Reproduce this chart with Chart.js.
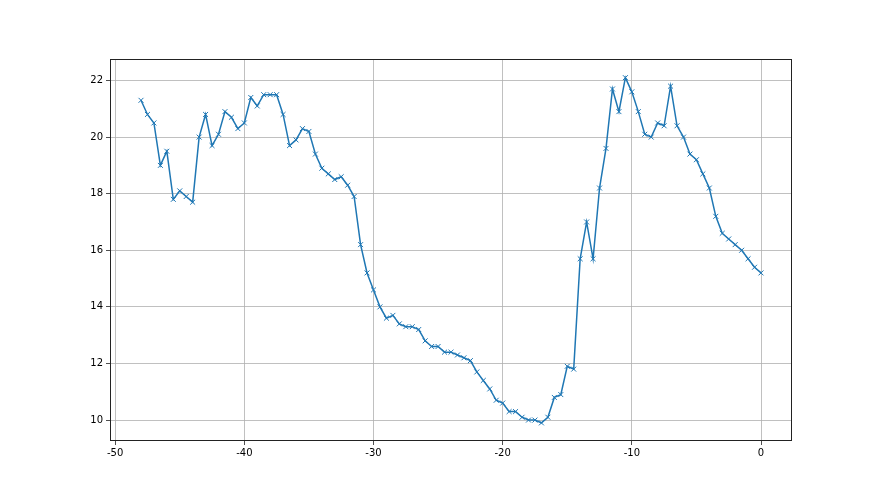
<!DOCTYPE html>
<html>
<head>
<meta charset="utf-8">
<script src="https://cdn.jsdelivr.net/npm/chart.js@4/dist/chart.umd.min.js"></script>
<style>
html,body{margin:0;padding:0;background:#fff;}
#wrap{width:880px;height:495px;}
</style>
</head>
<body>
<div id="wrap"><canvas id="c" width="880" height="495"></canvas></div>
<script>
const xValues = [-48,-47.5,-47,-46.5,-46,-45.5,-45,-44.5,-44,-43.5,-43,-42.5,-42,-41.5,-41,-40.5,-40,-39.5,-39,-38.5,-38,-37.5,-37,-36.5,-36,-35.5,-35,-34.5,-34,-33.5,-33,-32.5,-32,-31.5,-31,-30.5,-30,-29.5,-29,-28.5,-28,-27.5,-27,-26.5,-26,-25.5,-25,-24.5,-24,-23.5,-23,-22.5,-22,-21.5,-21,-20.5,-20,-19.5,-19,-18.5,-18,-17.5,-17,-16.5,-16,-15.5,-15,-14.5,-14,-13.5,-13,-12.5,-12,-11.5,-11,-10.5,-10,-9.5,-9,-8.5,-8,-7.5,-7,-6.5,-6,-5.5,-5,-4.5,-4,-3.5,-3,-2.5,-2,-1.5,-1,-0.5,0];
const yValues = [21.3,20.8,20.5,19.0,19.5,17.8,18.1,17.9,17.7,20.0,20.8,19.7,20.1,20.9,20.7,20.3,20.5,21.4,21.1,21.5,21.5,21.5,20.8,19.7,19.9,20.3,20.2,19.4,18.9,18.7,18.5,18.6,18.3,17.9,16.2,15.2,14.6,14.0,13.6,13.7,13.4,13.3,13.3,13.2,12.8,12.6,12.6,12.4,12.4,12.3,12.2,12.1,11.7,11.4,11.1,10.7,10.6,10.3,10.3,10.1,10.0,10.0,9.9,10.1,10.8,10.9,11.9,11.8,15.7,17.0,15.7,18.2,19.6,21.7,20.9,22.1,21.6,20.9,20.1,20.0,20.5,20.4,21.8,20.4,20.0,19.4,19.2,18.7,18.2,17.2,16.6,16.4,16.2,16.0,15.7,15.4,15.2];
const xTicks = [-50,-40,-30,-20,-10,0];
const yTicks = [10,12,14,16,18,20,22];

const points = xValues.map((x,i)=>({x:x,y:yValues[i]}));

const frame = {
  id:'frame',
  afterDatasetsDraw(chart){
    const a = chart.chartArea, ctx = chart.ctx;
    ctx.save();
    ctx.strokeStyle = '#222';
    ctx.lineWidth = 1;
    ctx.strokeRect(Math.round(a.left)+0.5, Math.round(a.top)+0.5, Math.round(a.right-a.left)-1, Math.round(a.bottom-a.top)-1);
    ctx.restore();
  }
};

const font = {family:'"DejaVu Sans", sans-serif', size:10};

new Chart(document.getElementById('c'), {
  type:'line',
  data:{datasets:[{
    data: points,
    borderColor:'#1f77b4',
    backgroundColor:'#1f77b4',
    borderWidth:1.5,
    pointStyle:'crossRot',
    pointRadius:3.5,
    pointBorderWidth:1,
    pointBorderColor:'#1f77b4',
    tension:0,
    fill:false
  }]},
  options:{
    responsive:false,
    animation:false,
    events:[],
    layout:{padding:{left:64, right:88, top:59, bottom:24}},
    plugins:{legend:{display:false}, tooltip:{enabled:false}},
    scales:{
      x:{
        type:'linear',
        min:-50.4, max:2.4,
        afterBuildTicks(s){ s.ticks = xTicks.map(v=>({value:v})); },
        afterFit(s){ s.height = 30; },
        grid:{color:'#b0b0b0', lineWidth:0.8, tickColor:'#222', tickLength:4, drawTicks:true},
        border:{display:false},
        ticks:{color:'#000', font:font, padding:2, maxRotation:0, callback:v=>String(v)}
      },
      y:{
        type:'linear',
        min:9.26, max:22.76,
        afterBuildTicks(s){ s.ticks = yTicks.map(v=>({value:v})); },
        afterFit(s){ s.width = 46; },
        grid:{color:'#b0b0b0', lineWidth:0.8, tickColor:'#222', tickLength:4, drawTicks:true},
        border:{display:false},
        ticks:{color:'#000', font:font, padding:3, callback:v=>String(v)}
      }
    }
  },
  plugins:[frame]
});
</script>
</body>
</html>
